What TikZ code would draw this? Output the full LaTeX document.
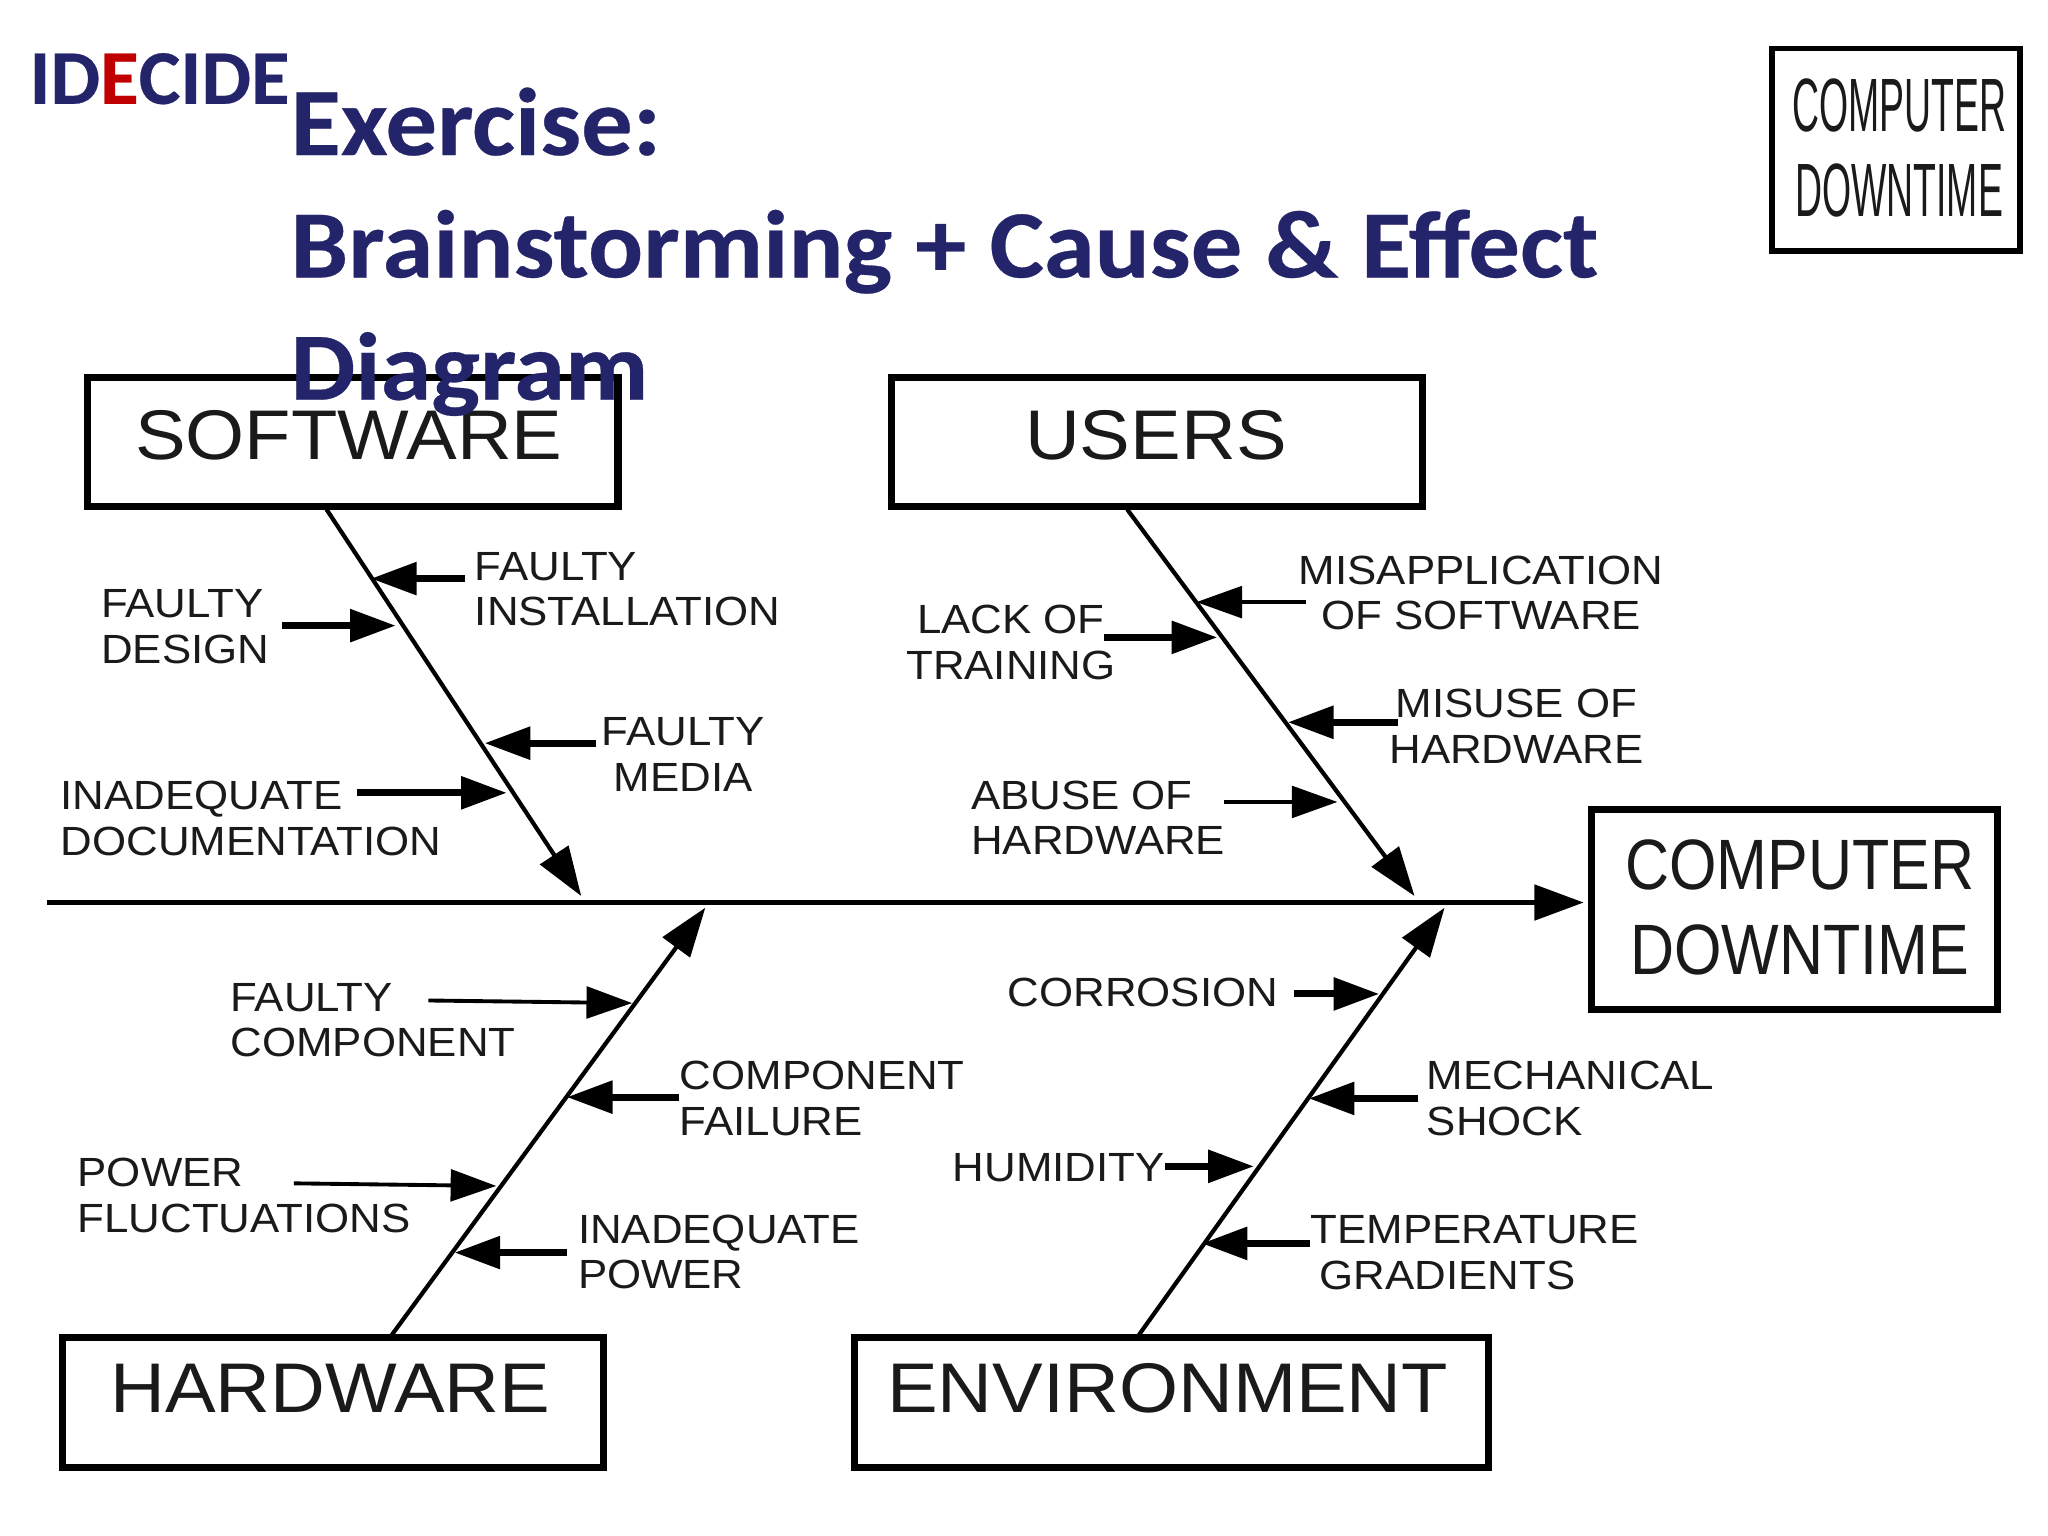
\documentclass[tikz,border=0pt]{standalone}
\usepackage{fontspec}
\usetikzlibrary{arrows.meta}
\setmainfont{Liberation Sans}
\newfontfamily\fsmall[FakeStretch=1.075]{Liberation Sans}
\newfontfamily\fbig[FakeStretch=1.08]{Liberation Sans}
\newfontfamily\feff[FakeStretch=.855]{Liberation Sans}
\newfontfamily\fcorner[FakeStretch=.495]{Liberation Sans}
\newfontfamily\ftitle[FakeStretch=1.066,FakeBold=0.3]{Carlito}
\newfontfamily\fbrand[FakeStretch=1.02,FakeBold=0.3]{Carlito}
\definecolor{navy}{HTML}{24246B}
\definecolor{brandred}{HTML}{C00000}
\definecolor{ink}{HTML}{1A1A1A}
\tikzset{
  x=0.013061cm,y=-0.013061cm,
  catbox/.style={draw=black,line width=2pt,inner sep=0pt},
  biglabel/.style={text=ink,inner sep=0pt,font=\fbig\fontsize{20}{24}\selectfont},
  efflabel/.style={text=ink,inner sep=0pt,align=center,font=\feff\fontsize{20.3}{24.1}\selectfont},
  cornerlabel/.style={text=ink,inner sep=0pt,align=center,font=\fcorner\fontsize{21.5}{24.2}\selectfont},
  smalllabel/.style={inner sep=0pt,text=ink,font=\fsmall\fontsize{11.6}{13}\selectfont},
  bone/.style={draw=black,line width=1.2pt,-{Triangle[length=14pt,width=9.5pt]}},
  rib/.style={draw=black,line width=2pt,-{Triangle[length=13pt,width=9pt]}},
  ribthin/.style={draw=black,line width=1.1pt,-{Triangle[length=13pt,width=9pt]}},
}
\begin{document}
\begin{tikzpicture}
\useasboundingbox[fill=white] (0,0) rectangle (1568,1176);
% category boxes
\node[catbox,minimum width=151pt,minimum height=36.5pt] (sw) at (270,338.5) {};
\node[biglabel] (swt) at (267,333) {SOFTWARE};
\node[catbox,minimum width=151pt,minimum height=36.5pt] (us) at (886,338.5) {};
\node[biglabel] (ust) at (885,333) {USERS};
\node[catbox,minimum width=154pt,minimum height=37pt] (hw) at (255,1074) {};
\node[biglabel] (hwt) at (253,1063) {HARDWARE};
\node[catbox,minimum width=180.5pt,minimum height=37pt] (en) at (897,1074) {};
\node[biglabel] (ent) at (894,1063) {ENVIRONMENT};
% effect box
\node[catbox,minimum width=115.5pt,minimum height=56.8pt] (eff) at (1373.8,696.5) {};
\node[efflabel] (efft) at (1378,694.5) {COMPUTER\\DOWNTIME};
% corner box
\node[catbox,line width=1.7pt,minimum width=70.5pt,minimum height=57.5pt] (cor) at (1451.5,114.5) {};
\node[cornerlabel] (cort) at (1454,113) {COMPUTER\\DOWNTIME};
% spine
\coordinate (tail) at (36,691);
\draw[draw=black,line width=1.3pt,shorten >=1.2pt,-{Triangle[length=14pt,width=10pt]}] (tail) -- (eff.west |- tail);
% bones
\coordinate (swa) at (250,390); \coordinate (swb) at (445,686);
\coordinate (usa) at (863,390); \coordinate (usb) at (1083,686);
\coordinate (hwa) at (300,1022); \coordinate (hwb) at (540,695);
\coordinate (ena) at (872,1022); \coordinate (enb) at (1106,695);
\draw[bone] (swa) -- (swb);
\draw[bone] (usa) -- (usb);
\draw[bone] (hwa) -- (hwb);
\draw[bone] (ena) -- (enb);
% labels
\node[smalllabel,anchor=west,align=left] (l1) at (363,451) {FAULTY\\INSTALLATION};
\node[smalllabel,anchor=west,align=left] (l2) at (77,480) {FAULTY\\DESIGN};
\node[smalllabel,align=center] (l3) at (523,577.5) {FAULTY\\MEDIA};
\node[smalllabel,anchor=west,align=left] (l4) at (46,626.5) {INADEQUATE\\DOCUMENTATION};
\node[smalllabel,align=center] (l5) at (1134,454) {MISAPPLICATION\\OF SOFTWARE};
\node[smalllabel,align=center] (l6) at (774,492) {LACK OF\\TRAINING};
\node[smalllabel,align=center] (l7) at (1161,556) {MISUSE OF\\HARDWARE};
\node[smalllabel,anchor=west,align=left] (l8) at (743,626) {ABUSE OF\\HARDWARE};
\node[smalllabel,anchor=west,align=left] (l9) at (176,781) {FAULTY\\COMPONENT};
\node[smalllabel,anchor=west,align=left] (l10) at (520,841) {COMPONENT\\FAILURE};
\node[smalllabel,anchor=west,align=left] (l11) at (59,915.5) {POWER\\FLUCTUATIONS};
\node[smalllabel,anchor=west,align=left] (l12) at (442,958.5) {INADEQUATE\\POWER};
\node[smalllabel,anchor=west] (l13) at (771,760) {CORROSION};
\node[smalllabel,anchor=west,align=left] (l14) at (1092,841) {MECHANICAL\\SHOCK};
\node[smalllabel,anchor=west] (l15) at (729,894) {HUMIDITY};
\node[smalllabel,anchor=west,align=left] (l16) at (1003,959) {TEMPERATURE\\\hspace*{2.6pt}GRADIENTS};
% ribs
\coordinate (r1a) at (356,443); \coordinate (r1b) at (284,443);
\coordinate (r2a) at (216,479); \coordinate (r2b) at (303,479);
\coordinate (r3a) at (456,569); \coordinate (r3b) at (371,569);
\coordinate (r4a) at (273,607); \coordinate (r4b) at (388,607);
\coordinate (r5a) at (1000,461); \coordinate (r5b) at (916,461);
\coordinate (r6a) at (845,488); \coordinate (r6b) at (932,488);
\coordinate (r7a) at (1070,553); \coordinate (r7b) at (986,553);
\coordinate (r8a) at (937,614); \coordinate (r8b) at (1024,614);
\coordinate (r9a) at (328,766); \coordinate (r9b) at (484,768);
\coordinate (r10a) at (520,840); \coordinate (r10b) at (434,840);
\coordinate (r11a) at (225,906); \coordinate (r11b) at (380,908);
\coordinate (r12a) at (434,959); \coordinate (r12b) at (348,959);
\coordinate (r13a) at (991,761); \coordinate (r13b) at (1056,761);
\coordinate (r14a) at (1086,841); \coordinate (r14b) at (1002,841);
\coordinate (r15a) at (892,893); \coordinate (r15b) at (960,893);
\coordinate (r16a) at (1003,952); \coordinate (r16b) at (920,952);
\draw[rib] (r1a) -- (r1b);
\draw[rib] (r2a) -- (r2b);
\draw[rib] (r3a) -- (r3b);
\draw[rib] (r4a) -- (r4b);
\draw[ribthin] (r5a) -- (r5b);
\draw[rib] (r6a) -- (r6b);
\draw[rib] (r7a) -- (r7b);
\draw[ribthin] (r8a) -- (r8b);
\draw[ribthin] (r9a) -- (r9b);
\draw[rib] (r10a) -- (r10b);
\draw[ribthin] (r11a) -- (r11b);
\draw[rib] (r12a) -- (r12b);
\draw[rib] (r13a) -- (r13b);
\draw[rib] (r14a) -- (r14b);
\draw[rib] (r15a) -- (r15b);
\draw[rib] (r16a) -- (r16b);
% title
\node[inner sep=0pt,anchor=base west,text=navy] (brand) at (22,79.5)
  {\fbrand\fontsize{22}{26}\selectfont\bfseries ID\textcolor{brandred}{E}CIDE};
\node[inner sep=0pt,anchor=base west,align=left,text=navy,
  font=\ftitle\fontsize{27.4}{34.8}\selectfont\bfseries] (title) at (222,306)
  {Exercise:\\Brainstorming + Cause \& Effect\\Diagram};
\end{tikzpicture}
\end{document}
